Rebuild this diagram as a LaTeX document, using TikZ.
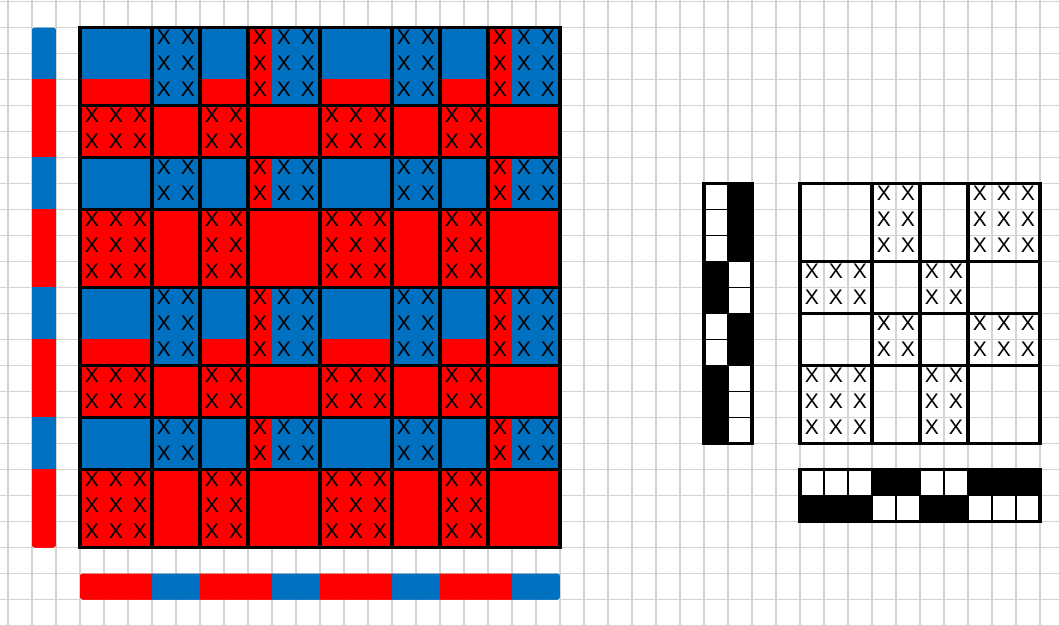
\documentclass[tikz,border=0pt]{standalone}
\usepackage{fontspec}
\setmainfont{Liberation Sans}
\definecolor{azul}{RGB}{0,112,192}
\definecolor{vermelho}{RGB}{255,0,0}
\definecolor{grade}{RGB}{212,212,212}

% 0 = vermelho, 1 = azul
\def\urdume{{0,0,0,1,1,0,0,0,1,1,0,0,0,1,1,0,0,0,1,1}}
\def\trama{{1,1,0,0,0,1,1,0,0,0,1,1,0,0,0,1,1,0,0,0}}
\def\bloco{{1,1,1,2,2,3,3,4,4,4,5,5,5,6,6,7,7,8,8,8}}
\def\blocob{{1,1,1,2,2,3,3,4,4,4}}

\begin{document}
\begin{tikzpicture}[x=0.6cm, y=-0.65cm,
    linhagrade/.style={grade, line width=1.4pt},
    borda/.style={black, line width=2.5pt, line cap=rect},
    fina/.style={black, line width=1.3pt},
    marca/.style={font=\fontsize{15}{15}\selectfont, inner sep=0pt}]
    \useasboundingbox (-0.3333,-0.0577) rectangle (43.7917,24.0192);

    % Grade de fundo
    \foreach \col in {0,...,43} \draw[linhagrade] (\col,-0.0577) -- (\col,24.0192);
    \foreach \lin in {0,...,24} \draw[linhagrade] (-0.3333,\lin) -- (43.7917,\lin);

    % Cores da trama
    \begin{scope}
        \clip[rounded corners=2pt] (1,1) rectangle (2,21);
        \foreach \i in {1,...,20} {
            \pgfmathtruncatemacro\cor{\trama[\i-1]}
            \ifnum\cor=1 \def\tinta{azul}\else\def\tinta{vermelho}\fi
            \fill[\tinta, draw=\tinta, line width=0.3pt] (1,\i) rectangle (2,\i+1);
        }
    \end{scope}

    % Cores do urdume
    \begin{scope}
        \clip[rounded corners=2pt] (3,22) rectangle (23,23);
        \foreach \j in {1,...,20} {
            \pgfmathtruncatemacro\cor{\urdume[\j-1]}
            \ifnum\cor=1 \def\tinta{azul}\else\def\tinta{vermelho}\fi
            \fill[\tinta, draw=\tinta, line width=0.3pt] (\j+2,22) rectangle (\j+3,23);
        }
    \end{scope}

    % Padronagem colorida
    \foreach \i in {1,...,20} \foreach \j in {1,...,20} {
        \pgfmathtruncatemacro\bi{\bloco[\i-1]}
        \pgfmathtruncatemacro\bj{\bloco[\j-1]}
        \pgfmathtruncatemacro\sobe{mod(\bi+\bj,2)}
        \ifnum\sobe=1 \pgfmathtruncatemacro\cor{\urdume[\j-1]}\else\pgfmathtruncatemacro\cor{\trama[\i-1]}\fi
        \ifnum\cor=1 \def\tinta{azul}\else\def\tinta{vermelho}\fi
        \fill[\tinta, draw=\tinta, line width=0.3pt] (\j+2,\i) rectangle (\j+3,\i+1);
        \ifnum\sobe=1 \node[marca] (x-\i-\j) at (\j+2.5,\i+0.38) {X};\fi
    }
    \foreach \col in {3,6,8,10,13,16,18,20,23} \draw[borda] (\col,1) -- (\col,21);
    \foreach \lin in {1,4,6,8,11,14,16,18,21} \draw[borda] (3,\lin) -- (23,\lin);

    % Padrao em preto e branco
    \foreach \i in {1,...,10} \foreach \j in {1,...,10} {
        \pgfmathtruncatemacro\bi{\blocob[\i-1]}
        \pgfmathtruncatemacro\bj{\blocob[\j-1]}
        \pgfmathtruncatemacro\sobe{mod(\bi+\bj,2)}
        \ifnum\sobe=1 \node[marca] (y-\i-\j) at (\j+32.5,\i+6.38) {X};\fi
    }
    \foreach \col in {33,36,38,40,43} \draw[borda] (\col,7) -- (\col,17);
    \foreach \lin in {7,10,12,14,17} \draw[borda] (33,\lin) -- (43,\lin);

    % Pedalagem
    \foreach \i in {1,...,10} {
        \pgfmathtruncatemacro\bi{\blocob[\i-1]}
        \pgfmathtruncatemacro\imp{mod(\bi,2)}
        \ifnum\imp=1 \def\cp{30}\def\cb{29}\else\def\cp{29}\def\cb{30}\fi
        \fill[black, draw=black, line width=0.3pt] (\cp,\i+6) rectangle (\cp+1,\i+7);
        \draw[fina, fill=white] (\cb,\i+6) rectangle (\cb+1,\i+7);
    }
    \draw[borda] (29,7) rectangle (31,17);

    % Remetido
    \foreach \j in {1,...,10} {
        \pgfmathtruncatemacro\bj{\blocob[\j-1]}
        \pgfmathtruncatemacro\imp{mod(\bj,2)}
        \ifnum\imp=1 \def\rp{19}\def\rb{18}\else\def\rp{18}\def\rb{19}\fi
        \fill[black, draw=black, line width=0.3pt] (\j+32,\rp) rectangle (\j+33,\rp+1);
        \draw[fina, fill=white] (\j+32,\rb) rectangle (\j+33,\rb+1);
    }
    \draw[borda] (33,18) rectangle (43,20);
\end{tikzpicture}
\end{document}
